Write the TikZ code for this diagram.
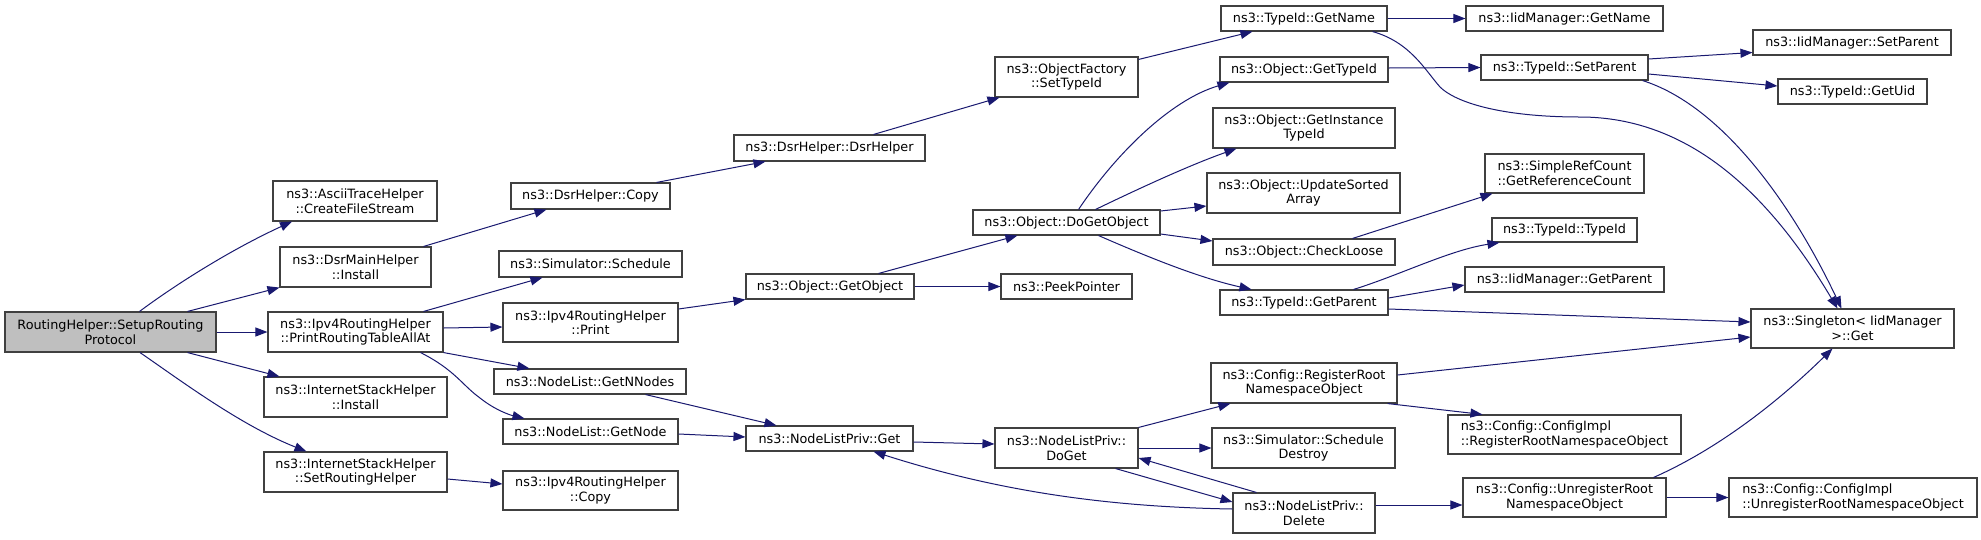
\documentclass[tikz,border=0pt]{standalone}
\usepackage{fontspec}
\setmainfont{DejaVu Sans}
\usetikzlibrary{arrows.meta}
\definecolor{edgec}{HTML}{191970}
\definecolor{boxc}{HTML}{404040}
\definecolor{rootfill}{HTML}{BFBFBF}
\newcommand\mybox[7][]{\node[box,#1,minimum width={(#5-#3)*1pt},minimum height={(#6-#4)*1pt}] (#2) at ({(#3+#5)/2},{(#4+#6)/2}) {#7};}
\begin{document}
\begin{tikzpicture}[x=1pt,y=-1pt,
  box/.style={draw=boxc, line width=1.1pt, fill=white, inner sep=0pt, align=center, font=\fontsize{12.8}{14.7}\selectfont},
  edge/.style={draw=edgec, line width=1pt, -{Triangle[length=12pt,width=9pt]}}]
\fill[white] (0,0) rectangle (1981,539);
\useasboundingbox (0,0) rectangle (1981,539);
% nodes
\mybox[fill=rootfill]{root}{5}{312}{216}{352}{RoutingHelper::SetupRouting\\Protocol}
\mybox{ascii}{273}{181}{437}{221}{ns3::AsciiTraceHelper\\::CreateFileStream}
\mybox{dsrmain}{280}{247}{431}{287}{ns3::DsrMainHelper\\::Install}
\mybox{prt}{268}{312}{443}{352}{ns3::Ipv4RoutingHelper\\::PrintRoutingTableAllAt}
\mybox{ishi}{264}{377}{447}{417}{ns3::InternetStackHelper\\::Install}
\mybox{ishs}{264}{452}{447}{492}{ns3::InternetStackHelper\\::SetRoutingHelper}
\mybox{dsrcopy}{511}{183}{670}{209}{ns3::DsrHelper::Copy}
\mybox{dsrh}{734}{135}{925}{161}{ns3::DsrHelper::DsrHelper}
\mybox{simsch}{499}{251}{682}{277}{ns3::Simulator::Schedule}
\mybox{print}{503}{303}{678}{342}{ns3::Ipv4RoutingHelper\\::Print}
\mybox{gnn}{494}{369}{686}{394}{ns3::NodeList::GetNNodes}
\mybox{gn}{503}{419}{678}{444}{ns3::NodeList::GetNode}
\mybox{ipcopy}{503}{471}{678}{510}{ns3::Ipv4RoutingHelper\\::Copy}
\mybox{getobj}{746}{274}{914}{299}{ns3::Object::GetObject}
\mybox{nlpget}{746}{426}{913}{451}{ns3::NodeListPriv::Get}
\mybox{oftid}{995}{57}{1138}{97}{ns3::ObjectFactory\\::SetTypeId}
\mybox{dgo}{973}{210}{1160}{235}{ns3::Object::DoGetObject}
\mybox{peek}{1001}{274}{1132}{299}{ns3::PeekPointer}
\mybox{doget}{995}{428}{1138}{468}{ns3::NodeListPriv::\\DoGet}
\mybox{tgn}{1221}{6}{1387}{31}{ns3::TypeId::GetName}
\mybox{ogt}{1220}{57}{1388}{82}{ns3::Object::GetTypeId}
\mybox{ogit}{1213}{108}{1395}{148}{ns3::Object::GetInstance\\TypeId}
\mybox{usa}{1207}{173}{1400}{213}{ns3::Object::UpdateSorted\\Array}
\mybox{cl}{1213}{239}{1395}{265}{ns3::Object::CheckLoose}
\mybox{tgp}{1220}{290}{1388}{315}{ns3::TypeId::GetParent}
\mybox{crr}{1211}{363}{1397}{403}{ns3::Config::RegisterRoot\\NamespaceObject}
\mybox{ssd}{1212}{428}{1395}{468}{ns3::Simulator::Schedule\\Destroy}
\mybox{del}{1233}{493}{1375}{533}{ns3::NodeListPriv::\\Delete}
\mybox{ign}{1466}{6}{1663}{31}{ns3::IidManager::GetName}
\mybox{tsp}{1481}{55}{1648}{80}{ns3::TypeId::SetParent}
\mybox{src}{1485}{154}{1644}{193}{ns3::SimpleRefCount\\::GetReferenceCount}
\mybox{tti}{1492}{218}{1637}{242}{ns3::TypeId::TypeId}
\mybox{igp}{1465}{267}{1664}{292}{ns3::IidManager::GetParent}
\mybox[align=left]{cirr}{1448}{415}{1681}{454}{ns3::Config::ConfigImpl\\::RegisterRootNamespaceObject}
\mybox{cur}{1463}{478}{1666}{517}{ns3::Config::UnregisterRoot\\NamespaceObject}
\mybox{isp}{1753}{30}{1951}{55}{ns3::IidManager::SetParent}
\mybox{tgu}{1778}{79}{1927}{104}{ns3::TypeId::GetUid}
\mybox{sg}{1751}{309}{1954}{348}{ns3::Singleton< IidManager\\ >::Get}
\mybox[align=left]{ciur}{1729}{478}{1977}{517}{ns3::Config::ConfigImpl\\::UnregisterRootNamespaceObject}
% edges
\draw[edge] ([xshift=29pt]root.north) .. controls (175,285) and (230,250) .. ([xshift=-63pt]ascii.south);
\draw[edge] ([xshift=77pt]root.north) -- (dsrmain.south west);
\draw[edge] (root.east) -- (prt.west);
\draw[edge] ([xshift=77pt]root.south) -- ([xshift=16pt]ishi.north west);
\draw[edge] ([xshift=29.5pt]root.south) .. controls (180,380) and (240,425) .. ([xshift=43pt]ishs.north west);
\draw[edge] ([xshift=-8pt]dsrmain.north east) -- ([xshift=36pt]dsrcopy.south west);
\draw[edge] ([xshift=-14pt]dsrcopy.north east) -- ([xshift=32pt]dsrh.south west);
\draw[edge] ([xshift=-52pt]dsrh.north east) -- ([xshift=5pt]oftid.south west);
\draw[edge] ([yshift=-3pt]oftid.north east) -- ([xshift=32pt]tgn.south west);
\draw[edge] (tgn.east) -- (ign.west);
\draw[edge] ([xshift=-15pt]tgn.south east) .. controls (1410,42) and (1425,70) .. (1440,87) .. controls (1455,102) and (1500,117) .. (1580,117) .. controls (1690,117) and (1770,195) .. ([xshift=87pt]sg.north west);
\draw[edge] ([xshift=-20pt]prt.north east) -- ([xshift=44pt]simsch.south west);
\draw[edge] ([yshift=4pt]prt.east) -- ([yshift=-4.5pt]print.west);
\draw[edge] (prt.south east) -- ([xshift=36pt]gnn.north west);
\draw[edge] ([xshift=-23pt]prt.south east) .. controls (455,370) and (462,385) .. (480,398) .. controls (495,410) and (510,415) .. ([xshift=22pt]gn.north west);
\draw[edge] ([yshift=13.5pt]print.east) -- (getobj.south west);
\draw[edge] ([xshift=-41pt]gnn.south east) -- ([xshift=31pt]nlpget.north west);
\draw[edge] ([yshift=-2.5pt]gn.east) -- ([yshift=1.5pt]nlpget.west);
\draw[edge] ([yshift=-7pt]ishs.east) -- ([yshift=6.5pt]ipcopy.west);
\draw[edge] ([xshift=-36pt]getobj.north east) -- ([xshift=45pt]dgo.south west);
\draw[edge] (getobj.east) -- (peek.west);
\draw[edge] ([xshift=-82pt]dgo.north east) .. controls (1115,155) and (1170,100) .. ([xshift=10pt]ogt.south west);
\draw[edge] ([xshift=-65pt]dgo.north east) .. controls (1140,188) and (1190,165) .. ([xshift=24pt]ogit.south west);
\draw[edge] ([yshift=11.5pt]dgo.east) -- ([yshift=-13pt]usa.west);
\draw[edge] ([yshift=-11.5pt]dgo.east) -- ([yshift=11pt]cl.west);
\draw[edge] ([xshift=-62pt]dgo.south east) .. controls (1150,258) and (1200,278) .. ([xshift=32pt]tgp.north west);
\draw[edge] ([xshift=-43pt]cl.north east) -- ([xshift=8pt]src.south west);
\draw[edge] ([yshift=1.5pt]ogt.east) -- (tsp.west);
\draw[edge] ([yshift=8.5pt]tsp.east) -- ([yshift=-10pt]isp.west);
\draw[edge] ([yshift=-6.5pt]tsp.east) -- ([yshift=5.5pt]tgu.west);
\draw[edge] ([xshift=-6pt]tsp.south east) .. controls (1720,105) and (1790,200) .. ([xshift=91pt]sg.north west);
\draw[edge] ([xshift=-35pt]tgp.north east) .. controls (1400,275) and (1450,250) .. ([xshift=8pt]tti.south west);
\draw[edge] ([yshift=4.5pt]tgp.east) -- ([yshift=-5.5pt]igp.west);
\draw[edge] ([yshift=-6.5pt]tgp.east) -- ([yshift=6.5pt]sg.west);
\draw[edge] ([yshift=8pt]crr.east) -- ([yshift=-8.5pt]sg.west);
\draw[edge] ([xshift=-10pt]crr.south east) -- ([xshift=35pt]cirr.north west);
\draw[edge] ([yshift=-3.5pt]nlpget.east) -- ([yshift=4pt]doget.west);
\draw[edge] (doget.north east) -- ([xshift=20pt]crr.south west);
\draw[edge] (doget.east) -- (ssd.west);
\draw[edge] ([xshift=-23pt]doget.south east) -- ([yshift=11pt]del.west);
\draw[edge] ([xshift=24pt]del.north west) -- ([yshift=-10pt]doget.east);
\draw[edge] ([yshift=4pt]del.west) .. controls (1110,507) and (1000,492) .. ([xshift=-40pt]nlpget.south east);
\draw[edge] ([yshift=8pt]del.east) -- ([yshift=-7.5pt]cur.west);
\draw[edge] ([xshift=-13pt]cur.north east) .. controls (1720,448) and (1780,400) .. ([xshift=82pt]sg.south west);
\draw[edge] (cur.east) -- (ciur.west);
\end{tikzpicture}
\end{document}
